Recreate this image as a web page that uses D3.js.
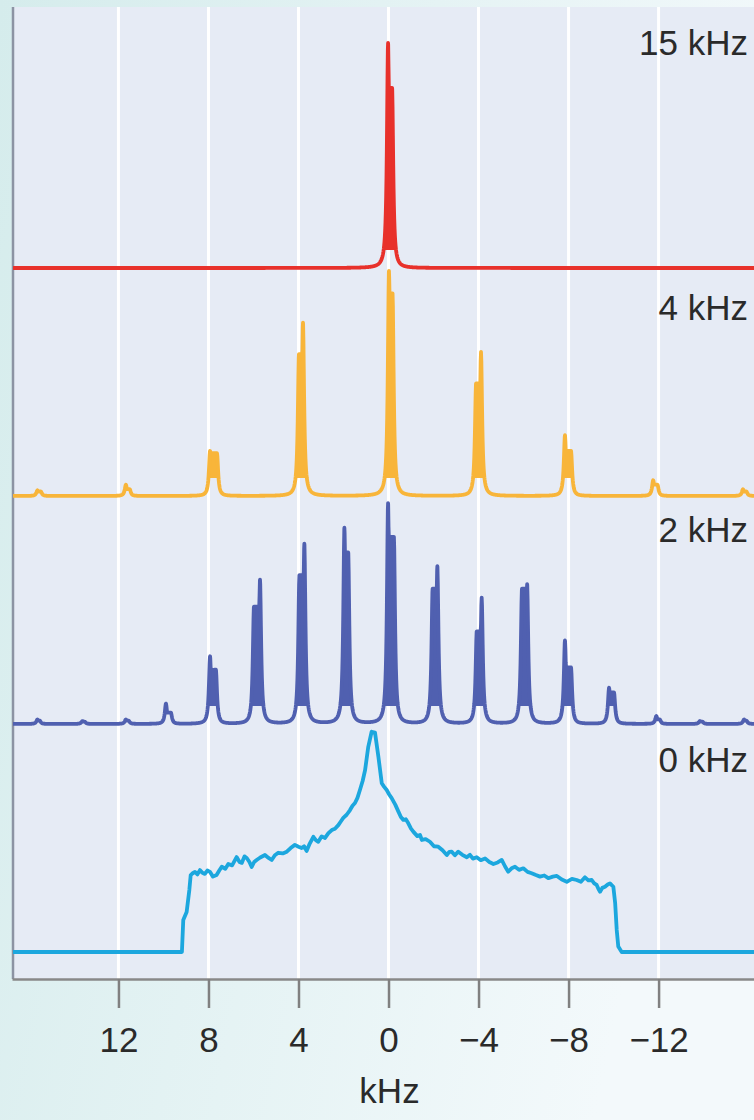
<!DOCTYPE html>
<html><head><meta charset="utf-8">
<script src="https://cdn.jsdelivr.net/npm/d3@7"></script>
<style>
html,body{margin:0;padding:0;background:#fff;}
svg{display:block;}
text{font-family:"Liberation Sans",Arial,Helvetica,sans-serif;}
</style></head><body>
<svg id="chart" width="754" height="1120"></svg>
<script>
// ---------------- DATA ----------------
const seriesLabels = ["15 kHz", "4 kHz", "2 kHz", "0 kHz"];
const tickValues = [12, 8, 4, 0, -4, -8, -12];
const axisTitle = "kHz";

// Spinning sidebands: [tall line kHz, tall intensity, shoulder kHz, shoulder intensity]
const sidebands15kHz = [[0.02, 1.00, -0.16, 0.80]];

const sidebands4kHz = [
  [15.6, 0.025, 15.45, 0.02], [11.67, 0.05, 11.5, 0.03],
  [7.93, 0.20, 7.62, 0.19], [3.80, 0.77, 3.98, 0.63],
  [-0.02, 1.00, -0.18, 0.90], [-4.11, 0.64, -3.89, 0.50],
  [-7.84, 0.27, -8.11, 0.20], [-11.76, 0.07, -11.95, 0.05],
  [-15.75, 0.03, -15.9, 0.02]
];

const sidebands2kHz = [
  [15.6, 0.02, 15.5, 0.015], [13.6, 0.013, 13.5, 0.01], [11.67, 0.02, 11.55, 0.015],
  [9.89, 0.09, 9.67, 0.05], [7.93, 0.30, 7.67, 0.24], [5.71, 0.64, 5.98, 0.52],
  [3.74, 0.80, 3.96, 0.66], [1.96, 0.87, 1.79, 0.76], [0.02, 0.98, -0.24, 0.83],
  [-2.17, 0.70, -1.96, 0.60], [-4.14, 0.56, -3.92, 0.41], [-6.16, 0.62, -5.93, 0.60],
  [-7.84, 0.37, -8.11, 0.25], [-9.80, 0.16, -10.02, 0.14], [-11.9, 0.035, -12.05, 0.02],
  [-13.84, 0.013, -13.95, 0.01], [-15.8, 0.02, -15.9, 0.015]
];

// Static (0 kHz) powder pattern: [frequency (kHz), relative intensity]
const static0kHz = [
  [16.8, 0], [9.36, 0], [9.18, 0], [9.12, 0.142], [8.97, 0.178], [8.85, 0.276],
  [8.79, 0.342], [8.70, 0.350], [8.60, 0.356], [8.49, 0.345], [8.38, 0.364], [8.27, 0.352],
  [8.16, 0.347], [8.05, 0.362], [7.93, 0.356], [7.80, 0.335], [7.64, 0.342], [7.52, 0.362],
  [7.41, 0.379], [7.25, 0.370], [7.12, 0.391], [6.95, 0.385], [6.75, 0.422], [6.62, 0.400],
  [6.52, 0.396], [6.40, 0.425], [6.30, 0.418], [6.18, 0.400], [6.08, 0.378], [5.97, 0.400],
  [5.86, 0.409], [5.70, 0.420], [5.49, 0.431], [5.33, 0.418], [5.19, 0.409], [5.05, 0.430],
  [4.90, 0.441], [4.70, 0.438], [4.52, 0.446], [4.35, 0.462], [4.16, 0.476], [4.00, 0.468],
  [3.86, 0.462], [3.75, 0.470], [3.64, 0.449], [3.50, 0.482], [3.34, 0.512], [3.22, 0.496],
  [3.12, 0.490], [2.97, 0.514], [2.82, 0.507], [2.67, 0.528], [2.52, 0.542], [2.38, 0.548],
  [2.23, 0.564], [2.12, 0.580], [2.01, 0.596], [1.86, 0.610], [1.71, 0.631], [1.60, 0.650],
  [1.49, 0.662], [1.38, 0.685], [1.27, 0.720], [1.15, 0.760], [1.04, 0.809],
  [0.90, 0.912], [0.75, 0.979], [0.60, 0.975], [0.45, 0.868], [0.30, 0.750],
  [0.20, 0.735], [0.08, 0.720], [-0.03, 0.700], [-0.14, 0.684], [-0.30, 0.655], [-0.44, 0.624],
  [-0.55, 0.600], [-0.66, 0.587], [-0.77, 0.590], [-0.88, 0.572], [-1.00, 0.548], [-1.10, 0.535],
  [-1.28, 0.515], [-1.40, 0.520], [-1.48, 0.498], [-1.65, 0.502], [-1.84, 0.490], [-2.02, 0.470],
  [-2.21, 0.468], [-2.40, 0.452], [-2.59, 0.431], [-2.70, 0.445], [-2.81, 0.446], [-2.95, 0.430],
  [-3.10, 0.446], [-3.28, 0.432], [-3.48, 0.421], [-3.62, 0.432], [-3.75, 0.415], [-3.92, 0.421],
  [-4.10, 0.408], [-4.29, 0.416], [-4.48, 0.400], [-4.66, 0.391], [-4.85, 0.398], [-5.03, 0.409],
  [-5.18, 0.380], [-5.32, 0.357], [-5.47, 0.372], [-5.62, 0.379], [-5.80, 0.365], [-5.99, 0.372],
  [-6.18, 0.356], [-6.36, 0.350], [-6.55, 0.342], [-6.73, 0.335], [-6.92, 0.340], [-7.10, 0.328],
  [-7.30, 0.335], [-7.48, 0.338], [-7.70, 0.322], [-7.92, 0.312], [-8.15, 0.325], [-8.36, 0.320],
  [-8.55, 0.312], [-8.73, 0.332], [-8.88, 0.318], [-9.03, 0.320], [-9.14, 0.305], [-9.25, 0.298],
  [-9.33, 0.280], [-9.40, 0.268], [-9.50, 0.285], [-9.62, 0.290], [-9.74, 0.300], [-9.84, 0.305],
  [-9.99, 0.290], [-10.07, 0.218], [-10.14, 0.098], [-10.21, 0.024], [-10.36, 0], [-16.3, 0]
];

// ---------------- STYLE / LAYOUT ----------------
const colors = ["#e8312b", "#f8b53a", "#5060b0", "#1ca7de"];
const W = 754, H = 1120;
const plot = {left: 12, right: 754, top: 7, bottom: 979};
const labelBaselines = [55, 320, 542, 772];
const lineWidth = 3.8;
const gamma = 0.058;      // Lorentzian half-width (kHz)
const fillThreshold = 0.08; // spikes rendered solid above this level

const svg = d3.select("#chart");
const defs = svg.append("defs");
const bg = defs.append("linearGradient").attr("id", "bg").attr("x1", 0).attr("x2", 1).attr("y1", 0).attr("y2", 0.3);
bg.append("stop").attr("offset", "0%").attr("stop-color", "#d5ecec");
bg.append("stop").attr("offset", "100%").attr("stop-color", "#f3f9fb");
defs.append("clipPath").attr("id", "clip").append("rect")
  .attr("x", plot.left + 1).attr("y", plot.top).attr("width", plot.right - plot.left).attr("height", plot.bottom - plot.top);

svg.append("rect").attr("width", W).attr("height", H).attr("fill", "url(#bg)");
svg.append("rect").attr("x", plot.left).attr("y", plot.top)
  .attr("width", plot.right - plot.left).attr("height", plot.bottom - plot.top)
  .attr("fill", "#e6ebf5");

const x = d3.scaleLinear().domain([16.73, -16.24]).range([plot.left, plot.right]);
const offset = d3.scaleLinear().domain([0, 3]).range([268, 952]);
const amp = d3.scaleLinear().domain([0, 1]).range([0, 225]);

// gridlines
svg.append("g").selectAll("line").data(tickValues).join("line")
  .attr("x1", d => x(d)).attr("x2", d => x(d))
  .attr("y1", plot.top).attr("y2", plot.bottom)
  .attr("stroke", "#ffffff").attr("stroke-width", 3);

// left border
svg.append("line").attr("x1", plot.left + 1).attr("x2", plot.left + 1)
  .attr("y1", plot.top).attr("y2", plot.bottom)
  .attr("stroke", "#8c93a3").attr("stroke-width", 2.5);

// line shape: tall Lorentzian line plus a flat-topped shoulder up to the second position
function sidebandValue(k, s) {
  const lo = Math.min(s[0], s[2]), hi = Math.max(s[0], s[2]);
  const dist = k < lo ? lo - k : (k > hi ? k - hi : 0);
  const shoulder = s[3] / (1 + (dist / gamma) ** 2);
  const tall = s[1] / (1 + ((k - s[0]) / gamma) ** 2);
  return Math.max(shoulder, tall);
}
function spectrum(bands) {
  const ks = d3.range(16.8, -16.31, -0.015)
    .concat(bands.flatMap(s => [s[0], s[2]]))
    .sort((a, b) => b - a);
  return ks.map(k => [k, d3.sum(bands, s => sidebandValue(k, s))]);
}

const datasets = [spectrum(sidebands15kHz), spectrum(sidebands4kHz), spectrum(sidebands2kHz), static0kHz];
const g = svg.append("g").attr("clip-path", "url(#clip)");
[3, 2, 1, 0].forEach(i => {
  const base = offset(i);
  if (i < 3) {
    const area = d3.area().x(d => x(d[0]))
      .y0(base - amp(fillThreshold))
      .y1(d => base - amp(Math.max(d[1], fillThreshold)));
    g.append("path").datum(datasets[i]).attr("d", area).attr("fill", colors[i]);
  }
  const line = d3.line().x(d => x(d[0])).y(d => base - amp(d[1]));
  g.append("path").datum(datasets[i])
    .attr("d", line).attr("fill", "none")
    .attr("stroke", colors[i]).attr("stroke-width", lineWidth)
    .attr("stroke-linejoin", "round").attr("stroke-linecap", "round");
});

// series labels
svg.append("g").selectAll("text").data(seriesLabels).join("text")
  .attr("x", 748).attr("y", (d, i) => labelBaselines[i])
  .attr("text-anchor", "end").attr("font-size", 35).attr("fill", "#2a2a2a")
  .text(d => d);

// axis
const axis = d3.axisBottom(x).tickValues(tickValues).tickSize(29).tickSizeOuter(0).tickPadding(19);
const ax = svg.append("g").attr("transform", `translate(0,${plot.bottom})`).call(axis);
ax.select(".domain").attr("stroke", "#888").attr("stroke-width", 2.5);
ax.selectAll(".tick line").attr("stroke", "#808080").attr("stroke-width", 2.5);
ax.selectAll(".tick text").attr("font-size", 35).attr("fill", "#2a2a2a")
  .attr("font-family", "'Liberation Sans', Arial, sans-serif");

svg.append("text").attr("x", x(0) + 1).attr("y", 1103).attr("text-anchor", "middle")
  .attr("font-size", 35).attr("fill", "#2a2a2a").text(axisTitle);
</script>
</body></html>
